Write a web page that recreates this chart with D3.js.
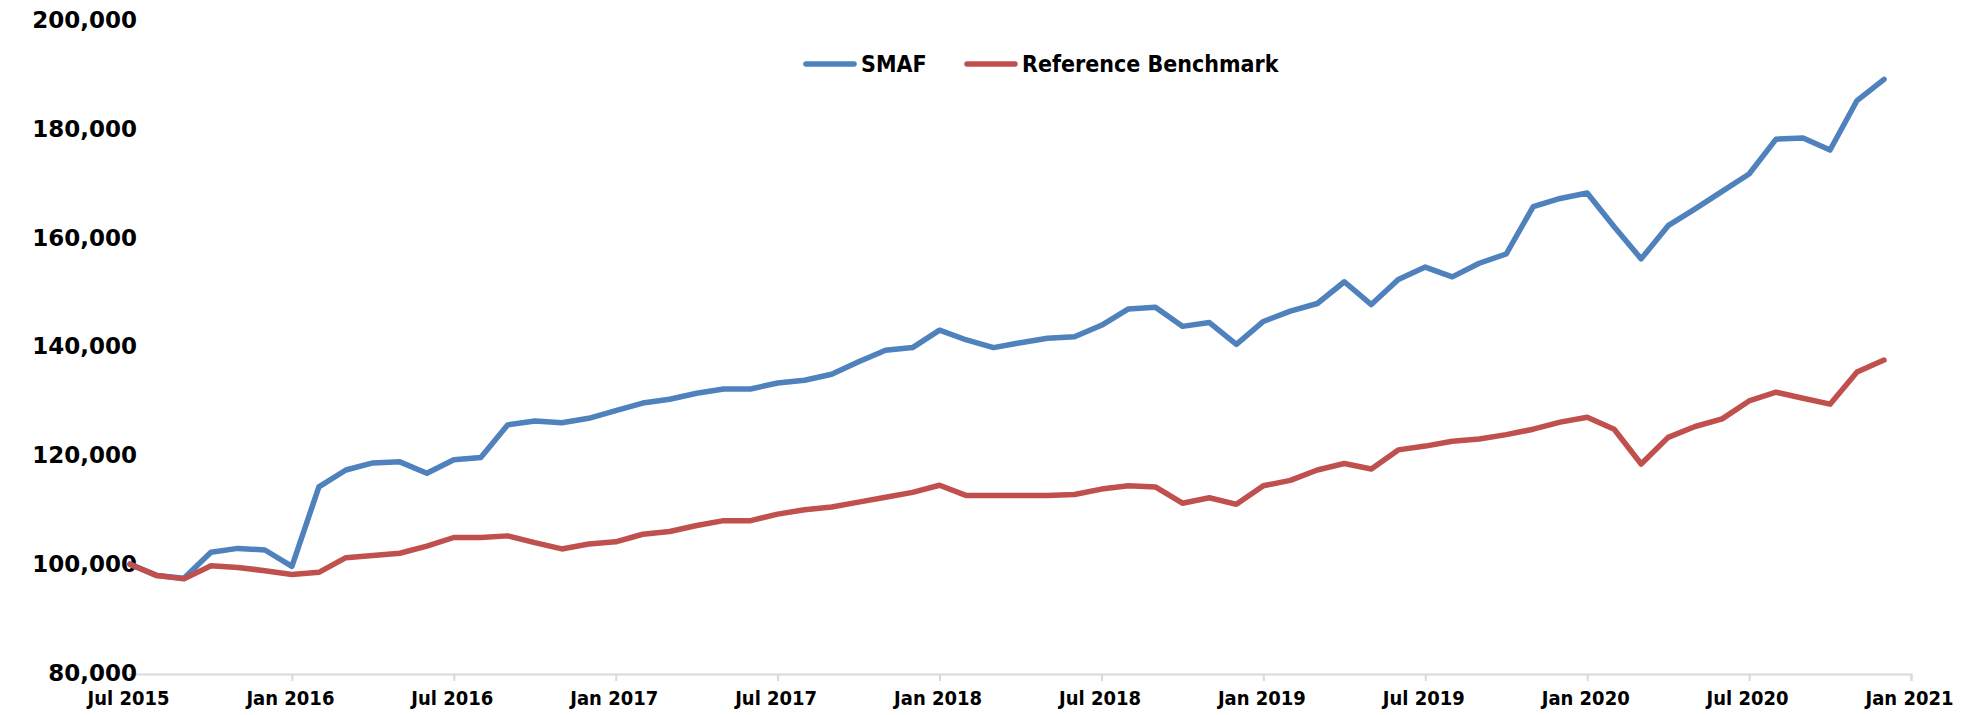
<!DOCTYPE html>
<html>
<head>
<meta charset="UTF-8">
<title>SMAF vs Reference Benchmark</title>
<script src="https://cdnjs.cloudflare.com/ajax/libs/d3/7.8.5/d3.min.js"></script>
<style>
  body { margin: 0; background: #fff; }
  .ylab { font-family: "DejaVu Sans", Verdana, sans-serif; font-weight: bold; font-size: 23px; fill: #000; }
  .xlab { font-family: "DejaVu Sans Condensed", "DejaVu Sans", sans-serif; font-stretch: condensed; font-weight: bold; font-size: 20px; fill: #000; }
  .leg  { font-family: "DejaVu Sans Condensed", "DejaVu Sans", sans-serif; font-stretch: condensed; font-weight: bold; font-size: 23px; fill: #000; }
</style>
</head>
<body>
<svg width="1969" height="715" id="chart"></svg>
<script>
// monthly values, Jul 2015 .. Dec 2020 (index 0 = Jul 2015)
var smaf = [100000, 97900, 97400, 102200, 102900, 102600, 99600, 114200, 117300, 118600, 118800, 116700,
            119200, 119600, 125600, 126300, 126000, 126800, 128200, 129600, 130300, 131400, 132200, 132200,
            133300, 133800, 134900, 137200, 139300, 139800, 143000, 141200, 139800, 140700, 141500, 141800,
            143900, 146900, 147200, 143700, 144400, 140400, 144600, 146500, 147900, 151900, 147700, 152300,
            154600, 152800, 155300, 157000, 165700, 167200, 168200, 162000, 156100, 162200, 165300, 168500,
            171700, 178100, 178300, 176100, 185200, 189100];
var bench = [100000, 97900, 97300, 99700, 99400, 98800, 98100, 98500, 101200, 101600, 102000, 103300,
             104900, 104900, 105200, 103950, 102800, 103700, 104100, 105500, 106000, 107100, 108000, 108000,
             109200, 110000, 110500, 111400, 112300, 113200, 114500, 112600, 112600, 112600, 112600, 112800,
             113800, 114400, 114200, 111200, 112200, 111000, 114400, 115400, 117300, 118500, 117500, 121000,
             121700, 122600, 123000, 123800, 124800, 126100, 127000, 124800, 118400, 123300, 125300, 126700,
             130000, 131600, 130500, 129400, 135300, 137500];
var tickMonths = [0, 6, 12, 18, 24, 30, 36, 42, 48, 54, 60, 66];
var tickLabels = ["Jul 2015", "Jan 2016", "Jul 2016", "Jan 2017", "Jul 2017", "Jan 2018",
                  "Jul 2018", "Jan 2019", "Jul 2019", "Jan 2020", "Jul 2020", "Jan 2021"];
var yTicks = [80000, 100000, 120000, 140000, 160000, 180000, 200000];
var seriesNames = ["SMAF", "Reference Benchmark"];
var colors = ["#4F81BD", "#C0504D"];

var svg = d3.select("#chart");
var x = d3.scaleLinear().domain([0, 66]).range([130, 1911]);
var y = d3.scaleLinear().domain([80000, 200000]).range([673, 20]);

// x axis
var xAxis = d3.axisBottom(x)
    .tickValues(tickMonths)
    .tickSize(7)
    .tickFormat(function (d, i) { return tickLabels[i]; });
var gx = svg.append("g").attr("transform", "translate(0,674)").call(xAxis);
gx.select(".domain").attr("stroke", "#d9d9d9").attr("stroke-width", 2);
gx.selectAll(".tick line").attr("stroke", "#d9d9d9").attr("stroke-width", 2);
gx.selectAll(".tick text").attr("class", "xlab").attr("dy", "0.9em").attr("y", 13).attr("dx", -2);

// y axis labels only
var yAxis = d3.axisLeft(y).tickValues(yTicks).tickSize(0).tickPadding(0).tickFormat(d3.format(","));
var gy = svg.append("g").attr("transform", "translate(137,0)").call(yAxis);
gy.select(".domain").remove();
gy.selectAll(".tick text").attr("class", "ylab");

// lines
var line = d3.line()
    .x(function (d, i) { return x(i); })
    .y(function (d) { return y(d); });
[smaf, bench].forEach(function (s, k) {
    svg.append("path")
        .datum(s)
        .attr("d", line)
        .attr("fill", "none")
        .attr("stroke", colors[k])
        .attr("stroke-width", 5.5)
        .attr("stroke-linejoin", "round")
        .attr("stroke-linecap", "round");
});

// legend
var legX = [806, 967];
seriesNames.forEach(function (n, k) {
    var g = svg.append("g").attr("transform", "translate(" + legX[k] + ",64)");
    g.append("line").attr("x1", 0).attr("x2", 48).attr("y1", 0).attr("y2", 0)
        .attr("stroke", colors[k]).attr("stroke-width", 5.5).attr("stroke-linecap", "round");
    g.append("text").attr("class", "leg").attr("x", 55).attr("y", 0).attr("dy", "0.36em").text(n);
});
</script>
</body>
</html>
